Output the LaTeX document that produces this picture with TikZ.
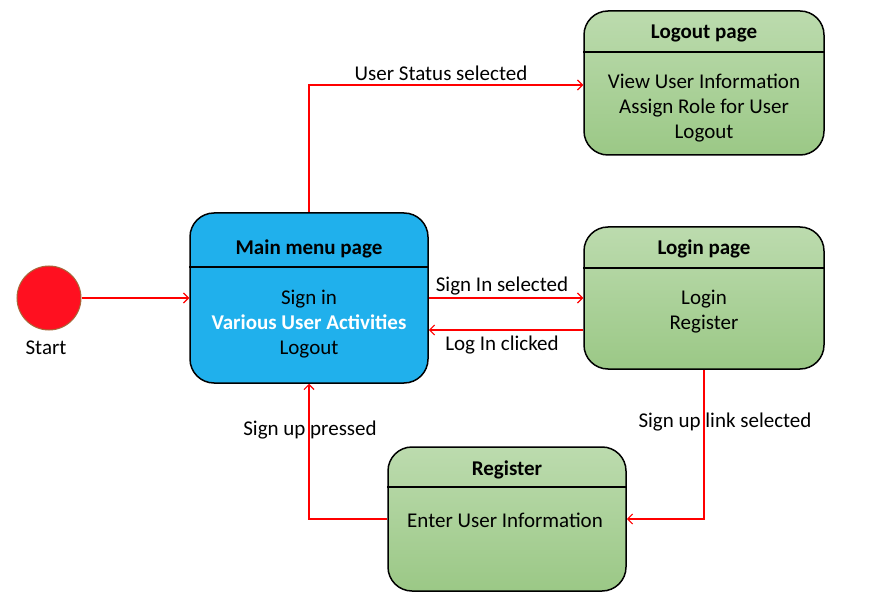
\documentclass[tikz,border=0pt]{standalone}
\usepackage{fontspec}
\setmainfont{Carlito}
\usetikzlibrary{arrows.meta}

\definecolor{menublue}{HTML}{20B0EC}
\definecolor{greentop}{HTML}{BCDBAE}
\definecolor{greenbot}{HTML}{9BC886}
\definecolor{startred}{HTML}{FF1020}
\definecolor{startrim}{HTML}{A8683A}

\tikzset{
	statebox/.style={draw=black, line width=1.5pt, rounded corners=24pt, inner sep=0pt},
	greenbox/.style={statebox, top color=greentop, bottom color=greenbot},
	bluebox/.style={statebox, fill=menublue},
	boxtitle/.style={font=\bfseries\fontsize{21}{25}\selectfont},
	boxbody/.style={align=center, font=\fontsize{21}{25}\selectfont},
	translabel/.style={font=\fontsize{21}{25}\selectfont},
	trans/.style={draw=red, line width=1.2pt, -{Straight Barb[length=5pt,width=10pt]}},
}

\begin{document}
\begin{tikzpicture}[x=1pt, y=-1pt]

	\useasboundingbox (0,0) rectangle (869,601);

	% Startknoten
	\node[circle, fill=startred, draw=startrim, line width=1pt, minimum size=64pt, inner sep=0pt] (start) at (49,298) {};
	\node[translabel] (startlbl) at (46,348) {Start};

	% Main menu page
	\node[bluebox, minimum width=238pt, minimum height=170pt] (main) at (309,298) {};
	\draw[line width=1.5pt] (main.west |- 0,267) -- (main.east |- 0,267);
	\node[boxtitle] (maintitle) at (309,249) {Main menu page};
	\node[boxbody] (mainbody) at (309,324) {Sign in\\ \textcolor{white}{\bfseries Various User Activities}\\ Logout};

	% Logout page
	\node[greenbox, minimum width=240pt, minimum height=144pt] (logout) at (704,83) {};
	\draw[line width=1.5pt] (logout.west |- 0,52) -- (logout.east |- 0,52);
	\node[boxtitle] (logouttitle) at (704,33) {Logout page};
	\node[boxbody] (logoutbody) at (704,108) {View User Information\\ Assign Role for User\\ Logout};

	% Login page
	\node[greenbox, minimum width=240pt, minimum height=142pt] (login) at (704,298) {};
	\draw[line width=1.5pt] (login.west |- 0,268) -- (login.east |- 0,268);
	\node[boxtitle] (logintitle) at (704,249) {Login page};
	\node[boxbody] (loginbody) at (704,311.5) {Login\\ Register};

	% Register
	\node[greenbox, minimum width=238pt, minimum height=144pt] (register) at (507,519) {};
	\draw[line width=1.5pt] (register.west |- 0,487) -- (register.east |- 0,487);
	\node[boxtitle] (registertitle) at (507,470) {Register};
	\node[boxbody] (registerbody) at (505,520) {Enter User Information};

	% Uebergaenge
	\draw[trans] (start) -- (main);
	\draw[trans] (main.north) |- ([yshift=-2pt]logout.west);
	\node[translabel] (statuslbl) at (441,73) {User Status selected};
	\draw[trans] (main.east) -- (login.west);
	\node[translabel] (signinlbl) at (502,286) {Sign In selected};
	\draw[trans] ([yshift=-32pt]login.west) -- ([yshift=-32pt]main.east);
	\node[translabel] (loginlbl) at (502,345) {Log In clicked};
	\draw[trans] (login.south) |- (register.east);
	\node[translabel] (signuplinklbl) at (725,422) {Sign up link selected};
	\draw[trans] (register.west) -| (main.south);
	\node[translabel] (signuplbl) at (310,430) {Sign up pressed};

\end{tikzpicture}
\end{document}
